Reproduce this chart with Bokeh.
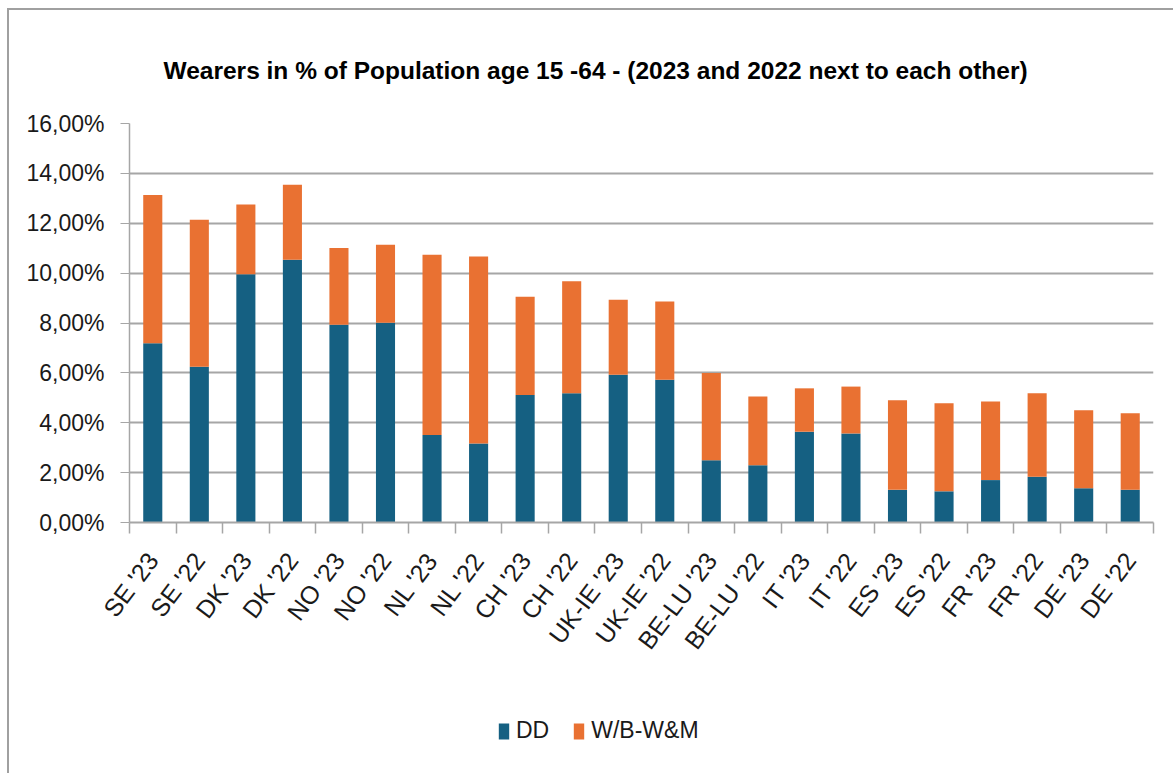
import math
from bokeh.plotting import figure
from bokeh.layouts import column
from bokeh.models import (Range1d, FixedTicker, Legend, LegendItem, ColumnDataSource, Label)
from bokeh.embed import file_html
from bokeh.resources import INLINE

# ---- data (percent of population age 15-64) ----
categories = ["SE '23", "SE '22", "DK '23", "DK '22", "NO '23", "NO '22",
              "NL '23", "NL '22", "CH '23", "CH '22", "UK-IE '23", "UK-IE '22",
              "BE-LU '23", "BE-LU '22", "IT '23", "IT '22", "ES '23", "ES '22",
              "FR '23", "FR '22", "DE '23", "DE '22"]
dd = [7.19, 6.25, 9.95, 10.54, 7.93, 8.01, 3.51, 3.17, 5.11, 5.18, 5.92, 5.72,
      2.50, 2.30, 3.64, 3.57, 1.31, 1.25, 1.70, 1.83, 1.37, 1.31]
total = [13.13, 12.14, 12.75, 13.54, 11.01, 11.14, 10.74, 10.67, 9.05, 9.67, 8.93, 8.86,
         6.00, 5.05, 5.38, 5.45, 4.90, 4.78, 4.85, 5.18, 4.50, 4.38]
wbwm = [round(t - d, 2) for t, d in zip(total, dd)]
y_ticks = [0, 2, 4, 6, 8, 10, 12, 14, 16]
series = ["DD", "W/B-W&M"]
colors = ["#156082", "#E97132"]
title_text = "Wearers in % of Population age 15 -64 - (2023 and 2022 next to each other)"

FONT = "Liberation Sans"
TXT = "#1a1a1a"
GRID = "#a6a6a6"

xs = list(range(len(categories)))
src = ColumnDataSource(dict(x=xs, DD=dd, WB=wbwm))

# ---- title strip ----
p0 = figure(width=1164, height=98, output_backend="svg", toolbar_location=None,
            x_range=Range1d(0, 1), y_range=Range1d(0, 1),
            x_axis_location=None, y_axis_location=None, min_border=0)
p0.outline_line_color = None
p0.grid.visible = False
p0.add_layout(Label(x=34, y=38, x_units="screen", y_units="screen", text=title_text,
                    text_font=FONT, text_font_style="bold", text_font_size="24.5px",
                    text_color="#000000", text_baseline="alphabetic", text_align="left"))

# ---- main chart ----
p = figure(width=1164, height=582, output_backend="svg", toolbar_location=None,
           x_range=Range1d(-0.5, len(categories) - 0.5), y_range=Range1d(0, 16),
           min_border_left=120, min_border_right=20, min_border_top=15,
           min_border_bottom=168)
p.outline_line_color = None
p.background_fill_color = "white"
p.border_fill_color = "white"

rs = p.vbar_stack(["DD", "WB"], x="x", width=0.41, source=src,
                  color=colors, line_color=None)

# y axis
ya = p.yaxis[0]
ya.ticker = FixedTicker(ticks=y_ticks)
ya.major_label_overrides = {v: f"{v:.2f}%".replace(".", ",") for v in y_ticks}
ya.major_label_text_font = FONT
ya.major_label_text_font_size = "23px"
ya.major_label_text_color = TXT
ya.major_label_standoff = 16
ya.major_tick_out = 9
ya.major_tick_in = 0
ya.minor_tick_line_color = None
ya.axis_line_color = GRID
ya.major_tick_line_color = GRID
ya.axis_line_width = 1.5

# x axis
xa = p.xaxis[0]
xa.ticker = FixedTicker(ticks=xs, minor_ticks=[i - 0.5 for i in range(len(categories) + 1)])
xa.major_label_overrides = {i: c for i, c in enumerate(categories)}
xa.major_label_orientation = math.radians(53)
xa.major_label_text_font = FONT
xa.major_label_text_font_size = "25px"
xa.major_label_text_color = TXT
xa.major_tick_line_color = None
xa.major_tick_out = 11
xa.major_tick_in = 0
xa.major_label_standoff = 22
xa.minor_tick_out = 11
xa.minor_tick_in = 0
xa.minor_tick_line_color = GRID
xa.minor_tick_line_width = 1.5
xa.axis_line_color = GRID
xa.axis_line_width = 2

p.xgrid.grid_line_color = None
p.ygrid.ticker = FixedTicker(ticks=y_ticks)
p.ygrid.grid_line_color = GRID
p.ygrid.grid_line_width = 2

# ---- legend strip (proxy bars use the same data, lying below the visible range) ----
p2 = figure(width=1164, height=83, output_backend="svg", toolbar_location=None,
            x_range=Range1d(-0.5, len(categories) - 0.5), y_range=Range1d(1000, 1001),
            x_axis_location=None, y_axis_location=None, min_border=0)
p2.outline_line_color = None
p2.grid.visible = False
lr = p2.vbar_stack(["DD", "WB"], x="x", width=0.41, source=src,
                   color=colors, line_color=None)
legend = Legend(items=[LegendItem(label=s, renderers=[r]) for s, r in zip(series, lr)],
                orientation="horizontal", location=(368, 29))
legend.label_text_font = FONT
legend.label_text_font_size = "23px"
legend.label_text_color = TXT
legend.glyph_width = 13
legend.glyph_height = 20
legend.spacing = 23
legend.label_standoff = 6
legend.padding = 0
legend.margin = 0
legend.border_line_color = None
legend.background_fill_alpha = 0
p2.add_layout(legend, "center")

layout = column(p0, p, p2, spacing=0)
layout.styles = {"border-top": "2px solid #a0a0a0", "border-left": "2px solid #a0a0a0",
                 "margin-top": "8px", "margin-left": "7px"}

open("out.html", "w").write(file_html(layout, INLINE))
